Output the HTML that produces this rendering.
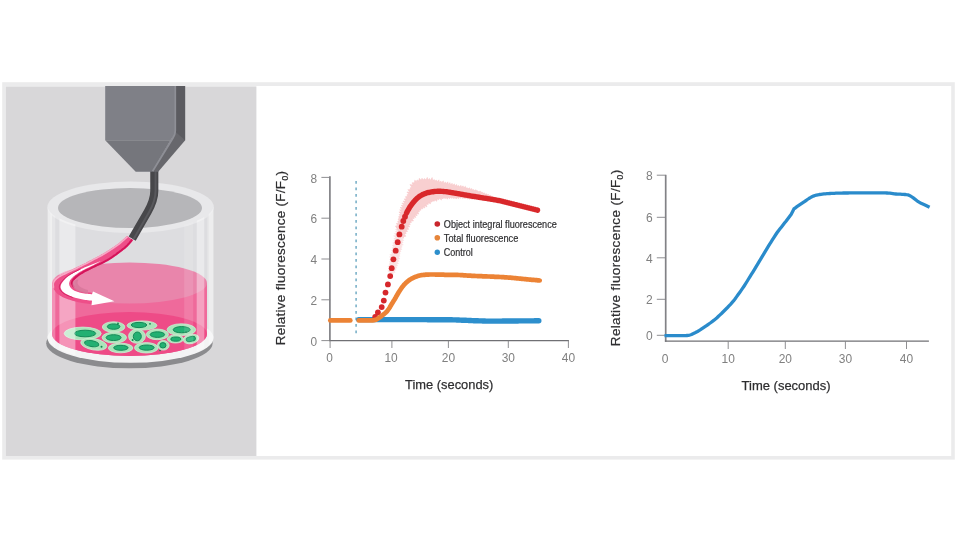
<!DOCTYPE html>
<html lang="en"><head><meta charset="utf-8"><title>Relative fluorescence figure</title>
<style>
html,body{margin:0;padding:0;background:#fff;}
body{width:960px;height:540px;overflow:hidden;}
svg{display:block;filter:blur(0.35px);font-family:"Liberation Sans",Arial,Helvetica,sans-serif;}
</style></head><body>
<svg width="960" height="540" viewBox="0 0 960 540">
<rect x="0" y="0" width="960" height="540" fill="#ffffff"/>
<rect x="2.2" y="82.2" width="952.6" height="377.4" fill="#ebebec"/>
<rect x="5.9" y="86" width="945.3" height="370" fill="#ffffff"/>
<rect x="5.9" y="86.4" width="250.5" height="369.6" fill="#d8d7d9"/>
<g id="illustration">
<defs>
<clipPath id="cylclip"><path d="M47.6,207 V338 A83,24.8 0 0 0 213.4,338 V207 A83,24.8 0 0 1 47.6,207 Z"/></clipPath>
</defs>
<!-- shadow -->
<ellipse cx="129.4" cy="343.3" rx="83.2" ry="25" fill="#8b8b8e"/>
<!-- glass body -->
<path d="M47.6,207 V338 A83,24.8 0 0 0 213.4,338 V207 Z" fill="#e3e3e5"/>
<ellipse cx="130.5" cy="338" rx="83" ry="24.8" fill="#f3f3f4"/>
<path d="M47.6,207 V338 A83,24.8 0 0 0 213.4,338 V207 Z" fill="#e3e3e5" opacity="0"/>
<!-- inner back wall above liquid -->
<path d="M52,207 V334 A77.5,22 0 0 0 207,334 V207 Z" fill="#dddde0"/>
<!-- top rim + opening -->
<ellipse cx="130.6" cy="207.2" rx="83.2" ry="25.7" fill="#e8e8ea"/>
<ellipse cx="130" cy="207.9" rx="72" ry="20" fill="#b6b6b9"/>
<!-- liquid -->
<path d="M52,283 V334 A77.5,22 0 0 0 207,334 V283 Z" fill="#ef6a9b"/>
<ellipse cx="129.5" cy="334" rx="77.5" ry="22" fill="#ee4b87"/>
<ellipse cx="129.5" cy="283" rx="77.5" ry="20.5" fill="#e985ab"/>
<!-- cells -->
<g fill="#abe4ba" stroke="#c9efd2" stroke-width="0.8">
<ellipse cx="82.7" cy="333.5" rx="18.5" ry="6.4"/>
<ellipse cx="113.6" cy="327.0" rx="11.3" ry="5.2"/>
<ellipse cx="142.0" cy="325.5" rx="14.9" ry="4.6"/>
<ellipse cx="114.3" cy="337.6" rx="12.2" ry="5.5"/>
<ellipse cx="93.8" cy="344.3" rx="13.2" ry="5.6" transform="rotate(10 93.8 344.3)"/>
<ellipse cx="120.6" cy="348.0" rx="12.2" ry="4.8"/>
<ellipse cx="137.0" cy="336.3" rx="8.4" ry="7.0"/>
<ellipse cx="157.4" cy="334.4" rx="11.1" ry="5.3"/>
<ellipse cx="181.4" cy="329.7" rx="14.3" ry="5.9"/>
<ellipse cx="175.4" cy="339.0" rx="8.2" ry="4.0"/>
<ellipse cx="191.1" cy="339.0" rx="7.8" ry="4.6" transform="rotate(-12 191.1 339)"/>
<ellipse cx="146.3" cy="347.8" rx="11.8" ry="5.2"/>
<ellipse cx="163.3" cy="345.3" rx="5.8" ry="4.8"/>
</g>
<g fill="#23b072" stroke="#128a57" stroke-width="1">
<ellipse cx="85.1" cy="333.5" rx="10.6" ry="3.3"/>
<ellipse cx="113.6" cy="326.6" rx="6.3" ry="2.7"/>
<ellipse cx="139.0" cy="325.0" rx="7.7" ry="2.6"/>
<ellipse cx="113.6" cy="337.6" rx="7.5" ry="2.9"/>
<ellipse cx="91.7" cy="343.6" rx="7.2" ry="3.0" transform="rotate(10 91.7 343.6)"/>
<ellipse cx="120.9" cy="347.8" rx="7.2" ry="2.5"/>
<ellipse cx="137.3" cy="336.4" rx="4.0" ry="4.4"/>
<ellipse cx="157.4" cy="334.6" rx="7.2" ry="2.8"/>
<ellipse cx="181.7" cy="329.7" rx="8.5" ry="3.1"/>
<ellipse cx="175.8" cy="339.1" rx="5.0" ry="2.1"/>
<ellipse cx="190.8" cy="339.0" rx="4.7" ry="2.4" transform="rotate(-12 190.8 339)"/>
<ellipse cx="146.7" cy="347.6" rx="7.5" ry="2.6"/>
<ellipse cx="162.9" cy="345.3" rx="3.1" ry="2.7"/>
</g>
<g fill="#11824f">
<circle cx="118" cy="323.5" r="0.9"/><circle cx="150" cy="323.8" r="0.9"/><circle cx="101.5" cy="346.8" r="1"/>
<circle cx="132.6" cy="340" r="1"/><circle cx="160" cy="350.5" r="0.8"/><circle cx="186" cy="332.2" r="0.9"/>
</g>
<!-- glass reflections -->
<g clip-path="url(#cylclip)" fill="#ffffff">
<rect x="47.4" y="200" width="4.4" height="170" opacity="0.32"/>
<rect x="50.4" y="200" width="4.9" height="170" opacity="0.28"/>
<rect x="59.4" y="200" width="16" height="170" opacity="0.4"/>
<rect x="184.2" y="200" width="9" height="170" opacity="0.12"/>
<rect x="196.7" y="200" width="7.6" height="170" opacity="0.38"/>
<rect x="208.6" y="200" width="5.4" height="170" opacity="0.36"/>
</g>
<!-- stream -->
<path d="M127.1,236.0 L126.5,236.5 L125.7,237.3 L124.7,238.1 L123.7,239.1 L122.5,240.1 L121.4,241.1 L120.3,242.0 L119.2,242.9 L118.2,243.7 L117.1,244.5 L116.1,245.2 L115.0,246.0 L114.0,246.7 L112.9,247.4 L111.8,248.1 L110.8,248.8 L109.8,249.5 L108.7,250.2 L107.7,250.8 L106.7,251.5 L105.6,252.1 L104.6,252.8 L103.5,253.4 L102.5,254.0 L101.5,254.6 L100.5,255.1 L99.5,255.7 L98.5,256.2 L97.4,256.7 L96.3,257.3 L95.2,257.9 L94.0,258.5 L92.7,259.2 L91.4,259.9 L90.0,260.6 L88.6,261.3 L87.2,262.1 L85.7,262.9 L84.1,263.7 L82.5,264.5 L80.8,265.3 L79.0,266.2 L77.1,267.1 L75.2,268.1 L73.2,269.0 L71.4,269.9 L69.6,270.7 L68.0,271.5 L66.5,272.2 L65.1,272.9 L63.7,273.5 L62.4,274.1 L61.2,274.7 L60.0,275.3 L59.0,275.9 L58.0,276.5 L57.1,277.2 L56.3,277.8 L55.5,278.5 L54.9,279.2 L54.3,279.9 L53.8,280.6 L53.3,281.3 L53.0,282.0 L52.7,282.7 L52.6,283.4 L52.5,284.1 L52.5,284.8 L52.5,285.6 L52.7,286.3 L52.9,287.0 L53.2,287.8 L53.6,288.6 L54.0,289.4 L54.6,290.3 L55.2,291.2 L55.9,292.0 L56.6,292.9 L57.4,293.7 L58.3,294.4 L59.2,295.1 L60.2,295.7 L61.3,296.3 L62.4,296.9 L63.5,297.4 L64.7,297.9 L66.0,298.4 L67.2,298.9 L68.5,299.4 L69.7,299.8 L71.1,300.3 L72.4,300.7 L73.8,301.1 L75.3,301.5 L76.7,301.8 L78.3,302.2 L80.0,302.5 L82.0,302.9 L84.0,303.2 L86.1,303.5 L88.1,303.8 L89.9,304.0 L91.4,304.2 L92.5,304.4 L92.5,292.9 L91.6,292.8 L90.5,292.6 L89.1,292.4 L87.5,292.2 L85.9,292.0 L84.4,291.7 L82.9,291.4 L81.7,291.1 L80.6,290.8 L79.6,290.4 L78.7,290.0 L77.8,289.6 L77.0,289.2 L76.3,288.7 L75.6,288.3 L75.0,287.8 L74.5,287.3 L74.0,286.8 L73.6,286.2 L73.3,285.7 L73.0,285.1 L72.8,284.5 L72.8,283.9 L72.8,283.3 L72.9,282.7 L73.2,282.1 L73.5,281.4 L73.9,280.8 L74.4,280.2 L75.0,279.5 L75.6,278.9 L76.3,278.2 L77.0,277.5 L77.9,276.9 L78.7,276.2 L79.7,275.5 L80.7,274.8 L81.7,274.2 L82.9,273.5 L84.0,272.8 L85.2,272.1 L86.6,271.4 L88.0,270.7 L89.4,270.0 L90.9,269.3 L92.3,268.6 L93.7,267.9 L95.0,267.3 L96.2,266.7 L97.4,266.1 L98.6,265.6 L99.8,265.0 L100.9,264.5 L102.0,264.0 L103.0,263.5 L104.0,263.0 L104.9,262.5 L105.8,262.1 L106.6,261.6 L107.4,261.2 L108.2,260.8 L109.0,260.3 L109.9,259.8 L110.8,259.2 L111.8,258.6 L112.8,257.9 L113.8,257.2 L114.9,256.4 L116.0,255.7 L117.1,254.9 L118.1,254.1 L119.2,253.3 L120.3,252.5 L121.3,251.7 L122.4,250.9 L123.5,250.0 L124.6,249.2 L125.6,248.4 L126.6,247.5 L127.5,246.7 L128.4,245.8 L129.2,244.9 L130.0,244.0 L130.8,243.0 L131.5,242.2 L132.2,241.4 L132.7,240.7 L133.1,240.2Z" fill="#ee4f89"/>
<path d="M127.6,236.6 L127.0,237.1 L126.2,237.9 L125.2,238.7 L124.2,239.7 L123.0,240.7 L121.9,241.7 L120.8,242.6 L119.7,243.5 L118.7,244.3 L117.6,245.1 L116.6,245.8 L115.5,246.6 L114.5,247.3 L113.4,248.0 L112.3,248.7 L111.3,249.4 L110.3,250.1 L109.2,250.8 L108.2,251.4 L107.2,252.1 L106.1,252.7 L105.1,253.4 L104.0,254.0 L103.0,254.6 L102.0,255.2 L101.0,255.7 L100.0,256.3 L99.0,256.8 L97.9,257.3 L96.8,257.9 L95.7,258.5 L94.5,259.1 L93.2,259.8 L91.9,260.5 L90.5,261.2 L89.1,261.9 L87.7,262.7 L86.2,263.5 L84.6,264.3 L83.0,265.1 L81.3,265.9 L79.5,266.8 L77.6,267.7 L75.7,268.7 L73.7,269.6 L71.9,270.5 L70.1,271.3 L68.5,272.1 L67.0,272.8 L65.6,273.5 L64.2,274.1 L62.9,274.7 L61.7,275.3 L60.5,275.9 L59.5,276.5 L58.5,277.1 L57.6,277.8 L56.8,278.4 L56.0,279.1 L55.4,279.8 L54.8,280.5 L54.3,281.2 L53.8,281.9 L53.5,282.6 L53.3,283.4 L53.2,284.2 L53.2,285.0 L53.3,285.8 L53.4,286.6 L53.5,287.4 L53.6,288.0 L53.7,288.4" fill="none" stroke="#f7a9c5" stroke-width="1.7"/>
<path d="M132.2,239.5 L131.8,240.0 L131.3,240.7 L130.6,241.5 L129.9,242.3 L129.1,243.3 L128.3,244.2 L127.5,245.1 L126.6,246.0 L125.7,246.8 L124.7,247.7 L123.7,248.5 L122.6,249.3 L121.5,250.2 L120.4,251.0 L119.4,251.8 L118.3,252.6 L117.2,253.4 L116.2,254.2 L115.1,255.0 L114.0,255.7 L112.9,256.5 L111.9,257.2 L110.9,257.9 L109.9,258.5 L109.0,259.1 L108.1,259.6 L107.3,260.1 L106.5,260.5 L105.7,260.9 L104.9,261.4 L104.0,261.8 L103.1,262.3 L102.1,262.8 L101.1,263.3 L100.0,263.8 L98.9,264.3 L97.7,264.9 L96.5,265.4 L95.3,266.0 L94.1,266.6 L92.8,267.2 L91.4,267.9 L90.0,268.6 L88.5,269.3 L87.1,270.0 L85.7,270.7 L84.3,271.4 L83.1,272.1 L82.0,272.8 L80.8,273.5 L79.8,274.1 L78.8,274.8 L77.8,275.5 L77.0,276.2 L76.1,276.8 L75.4,277.5 L74.7,278.2 L74.1,278.8 L73.5,279.5 L73.0,280.1 L72.6,280.7 L72.3,281.4 L72.0,282.0 L71.9,282.6 L71.9,283.2 L72.1,283.9 L72.4,284.5 L72.8,285.2 L73.2,285.8 L73.6,286.3 L73.9,286.8 L74.1,287.1" fill="none" stroke="#d4145a" stroke-width="2"/>
<path d="M73.5,280.5 C71.5,284 72.5,287.5 76,290 C79.5,292 84,293 88,293.4 L88,290 C84,289 80,287.5 78.3,285 C77,283 77.5,281.5 78.5,279.5 Z" fill="#d7779a" opacity="0.85"/>
<path d="M101.0,260.8 L100.3,261.1 L99.4,261.5 L98.3,261.9 L97.1,262.4 L95.9,263.0 L94.6,263.5 L93.2,264.1 L92.0,264.6 L90.8,265.1 L89.5,265.6 L88.3,266.1 L87.0,266.6 L85.7,267.1 L84.4,267.6 L83.1,268.2 L81.7,268.8 L80.3,269.5 L78.8,270.2 L77.2,271.0 L75.6,271.8 L74.1,272.6 L72.6,273.4 L71.2,274.2 L70.0,275.0 L68.9,275.8 L67.9,276.6 L66.9,277.3 L66.0,278.1 L65.2,278.9 L64.5,279.7 L63.8,280.4 L63.2,281.2 L62.6,282.0 L62.1,282.7 L61.6,283.5 L61.2,284.2 L60.9,285.0 L60.7,285.7 L60.6,286.5 L60.6,287.2 L60.7,287.9 L61.0,288.7 L61.3,289.5 L61.8,290.2 L62.3,290.9 L63.0,291.7 L63.7,292.3 L64.5,293.0 L65.4,293.6 L66.5,294.2 L67.6,294.8 L68.9,295.4 L70.2,295.9 L71.5,296.4 L72.7,296.9 L73.9,297.3 L75.0,297.7 L76.2,298.0 L77.3,298.3 L78.4,298.6 L79.5,298.8 L80.6,299.1 L81.7,299.3 L82.8,299.5 L84.0,299.7 L85.3,299.9 L86.6,300.1 L88.0,300.2 L89.2,300.4 L90.3,300.5 L91.3,300.6 L92.0,300.7 L91.5,305.2 L114.4,301.2 L93.0,291.6 L92.0,294.3 L91.2,294.2 L90.1,294.1 L88.8,294.0 L87.4,293.8 L85.9,293.7 L84.4,293.5 L83.0,293.3 L81.7,293.0 L80.5,292.7 L79.4,292.4 L78.2,292.1 L77.1,291.7 L76.0,291.3 L75.0,290.9 L74.1,290.5 L73.3,290.0 L72.6,289.5 L71.9,288.9 L71.2,288.3 L70.7,287.7 L70.2,287.0 L69.8,286.3 L69.5,285.7 L69.3,285.0 L69.2,284.3 L69.1,283.7 L69.2,283.0 L69.3,282.4 L69.5,281.7 L69.8,281.0 L70.1,280.3 L70.6,279.6 L71.2,278.9 L71.8,278.1 L72.6,277.4 L73.4,276.6 L74.3,275.9 L75.2,275.1 L76.2,274.4 L77.2,273.7 L78.2,273.0 L79.3,272.3 L80.5,271.6 L81.7,271.0 L82.8,270.3 L84.0,269.7 L85.2,269.1 L86.3,268.5 L87.4,267.9 L88.5,267.4 L89.5,266.9 L90.6,266.5 L91.6,266.0 L92.6,265.5 L93.6,265.1 L94.5,264.6 L95.4,264.1 L96.4,263.6 L97.3,263.0 L98.3,262.5 L99.1,261.9 L99.9,261.5 L100.5,261.1 L101.0,260.8Z" fill="#ffffff"/>
<path d="M80.5,269.0 L79.6,269.5 L78.3,270.1 L76.8,270.9 L75.1,271.7 L73.3,272.6 L71.7,273.5 L70.1,274.4 L68.8,275.2 L67.7,276.0 L66.7,276.8 L65.7,277.5 L64.8,278.3 L64.0,279.1 L63.3,279.9 L62.6,280.6 L62.0,281.4 L61.4,282.2 L60.9,282.9 L60.4,283.7 L60.0,284.4 L59.7,285.2 L59.5,285.9 L59.4,286.7 L59.4,287.4 L59.5,288.1 L59.8,288.9 L60.1,289.7 L60.6,290.4 L61.1,291.1 L61.8,291.9 L62.5,292.5 L63.3,293.2 L64.3,293.8 L65.5,294.5 L66.8,295.1 L68.2,295.7 L69.6,296.3 L70.9,296.8 L71.9,297.2 L72.7,297.5" fill="none" stroke="#d11a5d" stroke-width="0.9"/>

<!-- needle -->
<path d="M154.3,170 V191 C154.3,200 151,206 147.6,212 L132.2,238.6" fill="none" stroke="#47474a" stroke-width="8.1" stroke-linejoin="round"/>
<path d="M155.6,170 V191 C155.6,200.4 152.3,206.5 148.9,212.6 L133.5,239.2" fill="none" stroke="#58585c" stroke-width="2" stroke-linejoin="round"/>
<!-- pipette body -->
<path d="M175.6,86 H185.2 V140.2 H175.6 Z" fill="#5b5b60"/>
<path d="M175.6,132 L185.2,140.2 L158.2,171.7 H151.5 Z" fill="#67676c"/>
<path d="M105.2,86 H175.6 V133 L170.5,140.2 H105.2 Z" fill="#7f8087"/>
<path d="M105.2,140.2 H170.5 L152,171.7 H135.7 Z" fill="#75767c"/>
<path d="M175.3,86 V130.5 Q175.3,134.5 173,138 L152.6,171.2" fill="none" stroke="#8e8f96" stroke-width="1.7"/>
</g>

<g stroke="#828286" stroke-width="0.9" fill="none">
<path d="M329.9,176.2 V341.1" stroke-width="1.7"/>
<path d="M329.1,340.6 H568.9" stroke="#707074" stroke-width="1.2"/>
<path d="M321.4,177.4 H330.1"/>
<path d="M321.4,218.2 H330.1"/>
<path d="M321.4,259.0 H330.1"/>
<path d="M321.4,299.8 H330.1"/>
<path d="M321.4,340.6 H330.1"/>
<path d="M330.1,340.6 V348"/>
<path d="M391.9,340.6 V348"/>
<path d="M448.4,340.6 V348"/>
<path d="M508.3,340.6 V348"/>
<path d="M568.4,340.6 V348"/>
</g>
<g font-size="13" fill="#808080" text-anchor="end">
<text x="317.2" y="182.5" textLength="6.6" lengthAdjust="spacingAndGlyphs">8</text>
<text x="317.2" y="223.3" textLength="6.6" lengthAdjust="spacingAndGlyphs">6</text>
<text x="317.2" y="264.1" textLength="6.6" lengthAdjust="spacingAndGlyphs">4</text>
<text x="317.2" y="304.9" textLength="6.6" lengthAdjust="spacingAndGlyphs">2</text>
<text x="317.2" y="345.7" textLength="6.6" lengthAdjust="spacingAndGlyphs">0</text>
</g>
<g font-size="13" fill="#808080" text-anchor="middle">
<text x="329.6" y="362.2" textLength="6.6" lengthAdjust="spacingAndGlyphs">0</text>
<text x="391.1" y="362.2" textLength="13.3" lengthAdjust="spacingAndGlyphs">10</text>
<text x="448.4" y="362.2" textLength="13.3" lengthAdjust="spacingAndGlyphs">20</text>
<text x="508.3" y="362.2" textLength="13.3" lengthAdjust="spacingAndGlyphs">30</text>
<text x="568.4" y="362.2" textLength="13.3" lengthAdjust="spacingAndGlyphs">40</text>
</g>
<path d="M356.1,181 V337" stroke="#72acc5" stroke-width="1.5" stroke-dasharray="2.7 3.8" fill="none"/>
<path d="M358.8,319.6 L359.8,319.6 L360.8,319.6 L361.8,319.6 L362.8,319.6 L363.8,319.6 L364.8,319.6 L365.8,319.6 L366.8,319.6 L367.8,319.6 L368.8,319.6 L369.8,319.6 L370.8,319.6 L371.8,319.6 L372.8,319.6 L373.8,319.6 L374.8,319.6 L375.8,319.6 L376.8,319.6 L377.8,319.6 L378.8,319.6 L379.8,319.6 L380.8,319.6 L381.8,319.6 L382.8,319.6 L383.8,319.6 L384.8,319.6 L385.8,319.6 L386.8,319.6 L387.8,319.6 L388.8,319.6 L389.8,319.6 L390.8,319.6 L391.8,319.6 L392.8,319.6 L393.8,319.6 L394.8,319.6 L395.8,319.6 L396.8,319.6 L397.8,319.6 L398.8,319.6 L399.8,319.6 L400.8,319.6 L401.8,319.6 L402.8,319.6 L403.8,319.6 L404.8,319.6 L405.8,319.6 L406.8,319.6 L407.8,319.6 L408.8,319.6 L409.8,319.6 L410.8,319.6 L411.8,319.6 L412.8,319.6 L413.8,319.6 L414.8,319.6 L415.8,319.6 L416.8,319.6 L417.8,319.6 L418.8,319.6 L419.8,319.6 L420.8,319.6 L421.8,319.6 L422.8,319.6 L423.8,319.6 L424.8,319.6 L425.8,319.6 L426.8,319.6 L427.8,319.7 L428.8,319.7 L429.8,319.7 L430.8,319.7 L431.8,319.7 L432.8,319.7 L433.8,319.7 L434.8,319.7 L435.8,319.7 L436.8,319.7 L437.8,319.7 L438.8,319.7 L439.8,319.7 L440.8,319.7 L441.8,319.7 L442.8,319.7 L443.8,319.7 L444.8,319.7 L445.8,319.7 L446.8,319.8 L447.8,319.8 L448.8,319.8 L449.8,319.8 L450.8,319.8 L451.8,319.8 L452.8,319.9 L453.8,319.9 L454.8,319.9 L455.8,319.9 L456.8,320.0 L457.8,320.0 L458.8,320.0 L459.8,320.1 L460.8,320.1 L461.8,320.2 L462.8,320.2 L463.8,320.3 L464.8,320.3 L465.8,320.3 L466.8,320.4 L467.8,320.4 L468.8,320.5 L469.8,320.5 L470.8,320.5 L471.8,320.6 L472.8,320.6 L473.8,320.7 L474.8,320.7 L475.8,320.7 L476.8,320.8 L477.8,320.8 L478.8,320.9 L479.8,320.9 L480.8,320.9 L481.8,320.9 L482.8,321.0 L483.8,321.0 L484.8,321.0 L485.8,321.1 L486.8,321.1 L487.8,321.1 L488.8,321.1 L489.8,321.1 L490.8,321.1 L491.8,321.1 L492.8,321.1 L493.8,321.1 L494.8,321.1 L495.8,321.1 L496.8,321.1 L497.8,321.1 L498.8,321.1 L499.8,321.1 L500.8,321.1 L501.8,321.1 L502.8,321.0 L503.8,321.0 L504.8,321.0 L505.8,321.0 L506.8,321.0 L507.8,321.0 L508.8,321.0 L509.8,321.0 L510.8,321.0 L511.8,321.0 L512.8,321.0 L513.8,321.0 L514.8,321.0 L515.8,321.0 L516.8,321.0 L517.8,321.0 L518.8,320.9 L519.8,320.9 L520.8,320.9 L521.8,320.9 L522.8,320.9 L523.8,320.9 L524.8,320.9 L525.8,320.9 L526.8,320.9 L527.8,320.9 L528.8,320.9 L529.8,320.9 L530.8,320.9 L531.8,320.9 L532.8,320.9 L533.8,320.9 L534.8,320.8 L535.8,320.8 L536.8,320.8 L537.8,320.8 L538.8,320.8" stroke="#2d8fcd" stroke-width="5.4" stroke-linecap="round" stroke-linejoin="round" fill="none"/>
<path d="M387.3,270.8 L389.5,269.9 L388.0,268.6 L389.7,267.6 L387.3,266.2 L390.0,265.3 L388.7,264.0 L390.1,263.0 L389.1,261.7 L390.4,260.7 L389.4,259.3 L390.8,258.4 L388.9,256.8 L391.2,256.2 L389.4,254.6 L391.9,254.0 L391.0,252.6 L392.4,251.7 L391.1,250.2 L392.9,249.3 L391.6,247.8 L393.5,246.9 L391.9,245.3 L393.9,244.5 L392.3,242.8 L394.6,242.1 L393.2,240.6 L394.9,239.8 L393.5,238.3 L395.6,237.5 L393.0,235.8 L395.9,235.2 L393.6,233.5 L396.5,233.0 L394.9,231.5 L396.8,230.8 L395.0,229.3 L397.4,228.7 L396.0,227.2 L397.6,226.5 L404.3,238.2 L402.8,239.1 L404.2,240.5 L402.4,241.3 L403.5,242.7 L401.9,243.5 L403.8,245.0 L401.4,245.7 L402.6,247.1 L401.1,247.9 L402.3,249.5 L400.5,250.2 L401.3,251.7 L399.8,252.5 L400.6,253.9 L399.2,254.8 L400.4,256.3 L398.6,257.1 L400.3,258.9 L397.9,259.6 L399.6,261.3 L397.4,262.0 L398.9,263.7 L396.8,264.4 L398.1,266.0 L396.1,266.6 L397.3,268.1 L395.6,268.7 L396.4,270.1 L394.7,270.8 L395.3,272.9 L393.5,272.4 L393.4,274.7 L391.5,274.0Z" fill="#f9d6d7" opacity="0.7"/>
<path d="M395.4,226.0 L398.2,225.4 L396.2,223.7 L398.5,223.0 L397.6,221.5 L399.1,220.6 L398.0,219.1 L399.6,218.2 L398.5,216.7 L400.3,216.0 L399.1,214.5 L401.1,213.9 L398.9,212.1 L401.7,211.8 L399.6,209.9 L402.3,209.6 L400.0,207.5 L403.3,207.5 L401.2,205.5 L404.0,205.3 L401.9,203.2 L405.0,203.2 L403.1,201.2 L406.0,201.1 L404.1,198.9 L406.8,198.8 L405.3,196.7 L407.7,196.5 L406.9,194.7 L408.9,194.3 L406.9,192.1 L410.0,192.0 L407.8,189.7 L410.8,189.6 L410.0,187.9 L411.8,187.3 L409.9,184.6 L413.1,185.1 L412.0,182.8 L414.5,182.8 L414.7,180.2 L416.3,181.4 L417.1,179.9 L418.7,181.1 L419.3,178.3 L421.0,180.2 L422.0,178.2 L423.4,180.0 L424.5,178.4 L425.8,180.0 L427.3,177.4 L428.1,179.9 L429.5,178.4 L430.4,180.4 L432.1,177.5 L432.8,180.6 L434.3,179.5 L435.0,181.0 L436.5,180.1 L437.2,181.9 L438.9,179.8 L439.4,182.4 L440.9,181.0 L441.6,182.7 L443.3,180.8 L443.8,183.5 L445.4,182.0 L446.1,183.8 L447.8,181.8 L448.3,184.4 L449.9,182.6 L450.5,184.9 L452.1,183.3 L452.7,185.6 L454.3,183.8 L455.0,185.9 L456.5,184.4 L457.2,186.3 L458.6,185.4 L459.4,186.9 L460.9,185.3 L461.6,187.2 L463.1,185.8 L463.8,187.8 L465.4,186.3 L466.0,188.3 L467.3,187.7 L468.2,188.8 L469.6,187.8 L470.3,189.5 L471.7,188.5 L472.5,190.0 L473.7,189.5 L474.6,190.6 L476.0,189.7 L476.8,191.0 L478.0,190.8 L478.9,191.7 L480.3,191.0 L481.0,192.3 L482.3,192.2 L483.2,193.1 L484.4,193.0 L485.3,193.9 L486.6,193.8 L487.4,194.8 L488.7,194.6 L489.5,195.6 L490.9,195.4 L491.6,196.5 L492.9,196.5 L493.8,197.4 L495.1,197.2 L495.9,198.2 L497.0,198.5 L497.0,200.2 L495.9,199.9 L494.7,200.4 L493.6,199.8 L492.4,200.2 L491.3,199.7 L490.2,200.3 L489.1,199.5 L487.9,200.1 L486.8,199.5 L485.6,199.9 L484.5,199.4 L483.4,200.0 L482.3,199.2 L481.1,199.5 L480.0,199.1 L478.8,199.7 L477.7,198.9 L476.5,199.3 L475.4,198.7 L474.2,199.4 L473.1,198.5 L471.9,199.4 L470.8,198.3 L469.5,199.3 L468.5,198.2 L467.3,198.9 L466.2,197.9 L465.0,198.6 L463.9,197.8 L462.8,198.6 L461.7,197.6 L460.5,198.3 L459.5,197.6 L458.3,198.8 L457.2,197.5 L456.1,199.0 L455.0,197.2 L453.9,198.8 L452.8,197.1 L451.8,198.5 L450.6,197.3 L449.5,198.8 L448.4,197.3 L447.3,199.2 L446.1,197.5 L445.1,198.8 L443.9,197.4 L442.9,199.0 L441.7,197.7 L441.4,200.1 L439.4,198.2 L438.7,199.8 L437.1,198.9 L436.7,201.3 L434.9,199.8 L434.2,201.3 L432.7,200.7 L431.9,202.1 L430.4,201.6 L430.5,203.8 L428.3,202.8 L428.2,204.6 L426.2,203.9 L426.9,206.9 L424.4,205.4 L424.8,208.0 L422.4,206.8 L422.9,208.8 L420.6,208.3 L421.0,210.2 L419.2,210.0 L419.4,211.7 L417.7,211.7 L418.7,214.1 L416.3,213.4 L417.2,215.7 L414.8,215.1 L415.8,217.5 L413.4,216.8 L414.2,218.6 L411.8,218.6 L413.5,221.0 L410.8,220.8 L411.4,222.5 L409.3,222.7 L410.3,224.7 L408.3,224.9 L409.8,226.9 L407.2,227.2 L408.8,229.3 L406.2,229.5 L407.5,231.5 L405.2,231.9 L406.2,233.6 L404.2,234.2 L405.9,236.2 L403.4,236.7 L403.3,238.0Z" fill="#f8cfd0" stroke="#f6c2c4" stroke-width="0.5" stroke-linejoin="round"/>
<g fill="#d6272b">
<circle cx="375.2" cy="316.8" r="2.9"/>
<circle cx="377.9" cy="312.5" r="2.9"/>
<circle cx="381.7" cy="307.1" r="2.9"/>
<circle cx="383.8" cy="300.6" r="2.9"/>
<circle cx="385.5" cy="292.6" r="2.9"/>
<circle cx="387.9" cy="284.4" r="2.9"/>
<circle cx="390.2" cy="276.1" r="2.9"/>
<circle cx="391.7" cy="268.2" r="2.9"/>
<circle cx="393.4" cy="259.3" r="2.9"/>
<circle cx="395.7" cy="250.7" r="2.9"/>
<circle cx="397.7" cy="242.2" r="2.9"/>
<circle cx="399.4" cy="234.4" r="2.9"/>
<circle cx="401.7" cy="226.7" r="2.9"/>
<circle cx="403.3" cy="221.0" r="2.9"/>
<circle cx="405.0" cy="216.7" r="2.9"/>
</g>
<path d="M406.5,213.1 L407.5,211.0 L408.5,209.3 L409.5,207.6 L410.5,206.1 L411.5,204.7 L412.5,203.4 L413.5,202.1 L414.5,201.0 L415.5,199.9 L416.5,198.9 L417.5,197.9 L418.5,197.2 L419.5,196.4 L420.5,195.8 L421.5,195.2 L422.5,194.6 L423.5,194.2 L424.5,193.8 L425.5,193.4 L426.5,193.0 L427.5,192.7 L428.5,192.5 L429.5,192.3 L430.5,192.1 L431.5,191.9 L432.5,191.8 L433.5,191.7 L434.5,191.5 L435.5,191.4 L436.5,191.4 L437.5,191.3 L438.5,191.3 L439.5,191.3 L440.5,191.3 L441.5,191.4 L442.5,191.4 L443.5,191.5 L444.5,191.6 L445.5,191.6 L446.5,191.7 L447.5,191.9 L448.5,192.1 L449.5,192.2 L450.5,192.4 L451.5,192.6 L452.5,192.7 L453.5,192.9 L454.5,193.1 L455.5,193.2 L456.5,193.4 L457.5,193.6 L458.5,193.7 L459.5,193.9 L460.5,194.1 L461.5,194.3 L462.5,194.4 L463.5,194.6 L464.5,194.8 L465.5,195.0 L466.5,195.2 L467.5,195.4 L468.5,195.5 L469.5,195.7 L470.5,195.9 L471.5,196.1 L472.5,196.2 L473.5,196.4 L474.5,196.5 L475.5,196.7 L476.5,196.9 L477.5,197.0 L478.5,197.2 L479.5,197.3 L480.5,197.5 L481.5,197.6 L482.5,197.8 L483.5,198.0 L484.5,198.1 L485.5,198.3 L486.5,198.4 L487.5,198.6 L488.5,198.8 L489.5,198.9 L490.5,199.1 L491.5,199.3 L492.5,199.4 L493.5,199.6 L494.5,199.8 L495.5,199.9 L496.5,200.1 L497.5,200.3 L498.5,200.5 L499.5,200.7 L500.5,200.9 L501.5,201.1 L502.5,201.3 L503.5,201.6 L504.5,201.8 L505.5,202.1 L506.5,202.3 L507.5,202.6 L508.5,202.8 L509.5,203.1 L510.5,203.3 L511.5,203.6 L512.5,203.8 L513.5,204.1 L514.5,204.4 L515.5,204.6 L516.5,204.9 L517.5,205.2 L518.5,205.4 L519.5,205.7 L520.5,205.9 L521.5,206.2 L522.5,206.4 L523.5,206.7 L524.5,206.9 L525.5,207.2 L526.5,207.4 L527.5,207.7 L528.5,207.9 L529.5,208.2 L530.5,208.4 L531.5,208.7 L532.5,208.9 L533.5,209.2 L534.5,209.4 L535.5,209.7 L536.5,209.9 L537.5,210.2" stroke="#d9282b" stroke-width="5.4" stroke-linecap="round" stroke-linejoin="round" fill="none"/>
<path d="M330.3,320.4 L331.3,320.4 L332.3,320.4 L333.3,320.4 L334.3,320.4 L335.3,320.4 L336.3,320.4 L337.3,320.4 L338.3,320.4 L339.3,320.4 L340.3,320.4 L341.3,320.4 L342.3,320.4 L343.3,320.4 L344.3,320.4 L345.3,320.4 L346.3,320.4 L347.3,320.4 L348.3,320.4 L349.3,320.4 L350.3,320.4" stroke="#ec8335" stroke-width="4.7" stroke-linecap="round" stroke-linejoin="round" fill="none"/>
<path d="M358.7,320.4 L359.7,320.4 L360.7,320.4 L361.7,320.4 L362.7,320.4 L363.7,320.4 L364.7,320.4 L365.7,320.4 L366.7,320.4 L367.7,320.4 L368.7,320.4 L369.7,320.4 L370.7,320.4 L371.7,320.4 L372.7,320.4 L373.7,320.2 L374.7,320.1 L375.7,319.8 L376.7,319.3 L377.7,318.7 L378.7,318.1 L379.7,317.4 L380.7,316.6 L381.7,315.8 L382.7,315.0 L383.7,314.3 L384.7,313.5 L385.7,312.7 L386.7,311.7 L387.7,310.4 L388.7,309.0 L389.7,307.5 L390.7,305.7 L391.7,304.0 L392.7,302.4 L393.7,300.8 L394.7,299.2 L395.7,297.5 L396.7,295.7 L397.7,294.0 L398.7,292.3 L399.7,290.7 L400.7,289.2 L401.7,287.7 L402.7,286.4 L403.7,285.2 L404.7,284.1 L405.7,283.1 L406.7,282.2 L407.7,281.3 L408.7,280.5 L409.7,279.8 L410.7,279.2 L411.7,278.6 L412.7,278.1 L413.7,277.6 L414.7,277.1 L415.7,276.7 L416.7,276.4 L417.7,276.1 L418.7,275.8 L419.7,275.5 L420.7,275.3 L421.7,275.1 L422.7,275.0 L423.7,274.9 L424.7,274.8 L425.7,274.7 L426.7,274.7 L427.7,274.6 L428.7,274.6 L429.7,274.5 L430.7,274.5 L431.7,274.5 L432.7,274.5 L433.7,274.5 L434.7,274.5 L435.7,274.6 L436.7,274.6 L437.7,274.6 L438.7,274.7 L439.7,274.7 L440.7,274.7 L441.7,274.7 L442.7,274.7 L443.7,274.7 L444.7,274.8 L445.7,274.8 L446.7,274.8 L447.7,274.8 L448.7,274.8 L449.7,274.8 L450.7,274.8 L451.7,274.8 L452.7,274.8 L453.7,274.8 L454.7,274.9 L455.7,274.9 L456.7,274.9 L457.7,274.9 L458.7,275.0 L459.7,275.0 L460.7,275.1 L461.7,275.1 L462.7,275.2 L463.7,275.3 L464.7,275.3 L465.7,275.4 L466.7,275.5 L467.7,275.6 L468.7,275.6 L469.7,275.7 L470.7,275.7 L471.7,275.8 L472.7,275.8 L473.7,275.9 L474.7,275.9 L475.7,276.0 L476.7,276.0 L477.7,276.1 L478.7,276.1 L479.7,276.1 L480.7,276.2 L481.7,276.2 L482.7,276.3 L483.7,276.3 L484.7,276.3 L485.7,276.4 L486.7,276.4 L487.7,276.5 L488.7,276.5 L489.7,276.5 L490.7,276.6 L491.7,276.6 L492.7,276.7 L493.7,276.7 L494.7,276.8 L495.7,276.8 L496.7,276.8 L497.7,276.9 L498.7,276.9 L499.7,277.0 L500.7,277.0 L501.7,277.1 L502.7,277.2 L503.7,277.2 L504.7,277.3 L505.7,277.4 L506.7,277.4 L507.7,277.5 L508.7,277.6 L509.7,277.7 L510.7,277.7 L511.7,277.8 L512.7,277.9 L513.7,278.0 L514.7,278.1 L515.7,278.2 L516.7,278.3 L517.7,278.4 L518.7,278.5 L519.7,278.6 L520.7,278.7 L521.7,278.8 L522.7,278.9 L523.7,279.0 L524.7,279.1 L525.7,279.2 L526.7,279.3 L527.7,279.4 L528.7,279.5 L529.7,279.6 L530.7,279.7 L531.7,279.8 L532.7,279.9 L533.7,279.9 L534.7,280.0 L535.7,280.1 L536.7,280.2 L537.7,280.3 L538.7,280.4 L539.7,280.5" stroke="#ec8335" stroke-width="4.7" stroke-linecap="round" stroke-linejoin="round" fill="none"/>
<circle cx="437.3" cy="224" r="2.8" fill="#c9262c"/>
<circle cx="437.3" cy="237.8" r="2.8" fill="#e6853a"/>
<circle cx="437.3" cy="252.2" r="2.7" fill="#2d8fcc"/>
<g font-size="11" fill="#2e2e30" stroke="#2e2e30" stroke-width="0.2">
<text x="443.8" y="227.8" textLength="113" lengthAdjust="spacingAndGlyphs">Object integral fluorescence</text>
<text x="443.8" y="241.6" textLength="74.6" lengthAdjust="spacingAndGlyphs">Total fluorescence</text>
<text x="443.8" y="256" textLength="29" lengthAdjust="spacingAndGlyphs">Control</text>
</g>
<text x="405.1" y="388.9" font-size="13.5" fill="#2e2e30" stroke="#2e2e30" stroke-width="0.25" textLength="88.2" lengthAdjust="spacingAndGlyphs">Time (seconds)</text>
<text transform="translate(284.7,345.3) rotate(-90)" font-size="13.5" fill="#2e2e30" stroke="#2e2e30" stroke-width="0.2" textLength="174.2" lengthAdjust="spacing">Relative fluorescence (F/F<tspan font-size="8.5" dy="3.3">0</tspan><tspan dy="-3.3">)</tspan></text>
<g stroke="#828286" stroke-width="0.9" fill="none">
<path d="M665.7,174.8 V341.7" stroke-width="1.7"/>
<path d="M664.9,341.2 H928.9" stroke="#707074" stroke-width="1.2"/>
<path d="M656.8,175.2 H665.6"/>
<path d="M656.8,217.3 H665.6"/>
<path d="M656.8,257.8 H665.6"/>
<path d="M656.8,299.3 H665.6"/>
<path d="M656.8,335.3 H665.6"/>
<path d="M728.2,341.2 V349"/>
<path d="M785.3,341.2 V349"/>
<path d="M845.4,341.2 V349"/>
<path d="M906.5,341.2 V349"/>
</g>
<g font-size="13" fill="#808080" text-anchor="end">
<text x="652.8" y="180.3" textLength="6.7" lengthAdjust="spacingAndGlyphs">8</text>
<text x="652.8" y="222.4" textLength="6.7" lengthAdjust="spacingAndGlyphs">6</text>
<text x="652.8" y="262.9" textLength="6.7" lengthAdjust="spacingAndGlyphs">4</text>
<text x="652.8" y="304.4" textLength="6.7" lengthAdjust="spacingAndGlyphs">2</text>
<text x="652.8" y="340.4" textLength="6.7" lengthAdjust="spacingAndGlyphs">0</text>
</g>
<g font-size="13" fill="#808080" text-anchor="middle">
<text x="665" y="363.2" textLength="6.7" lengthAdjust="spacingAndGlyphs">0</text>
<text x="728.2" y="363.2" textLength="13.3" lengthAdjust="spacingAndGlyphs">10</text>
<text x="785.3" y="363.2" textLength="13.3" lengthAdjust="spacingAndGlyphs">20</text>
<text x="845.4" y="363.2" textLength="13.3" lengthAdjust="spacingAndGlyphs">30</text>
<text x="906.5" y="363.2" textLength="13.3" lengthAdjust="spacingAndGlyphs">40</text>
</g>
<path d="M664.5,335.6 L666.0,335.6 L667.5,335.6 L669.0,335.6 L670.5,335.6 L672.0,335.6 L673.5,335.6 L675.0,335.6 L676.5,335.6 L678.0,335.6 L679.5,335.6 L681.0,335.6 L682.5,335.6 L684.0,335.6 L685.5,335.6 L687.0,335.5 L688.5,335.4 L690.0,335.0 L691.5,334.5 L693.0,333.8 L694.5,333.1 L696.0,332.3 L697.5,331.5 L699.0,330.6 L700.5,329.7 L702.0,328.7 L703.5,327.7 L705.0,326.7 L706.5,325.7 L708.0,324.6 L709.5,323.5 L711.0,322.5 L712.5,321.3 L714.0,320.2 L715.5,319.0 L717.0,317.7 L718.5,316.3 L720.0,314.9 L721.5,313.5 L723.0,312.0 L724.5,310.5 L726.0,309.0 L727.5,307.5 L729.0,305.9 L730.5,304.3 L732.0,302.6 L733.5,300.9 L735.0,299.0 L736.5,296.9 L738.0,294.8 L739.5,292.7 L741.0,290.6 L742.5,288.4 L744.0,286.2 L745.5,283.9 L747.0,281.5 L748.5,279.0 L750.0,276.6 L751.5,274.2 L753.0,271.8 L754.5,269.3 L756.0,266.8 L757.5,264.3 L759.0,261.8 L760.5,259.3 L762.0,256.8 L763.5,254.3 L765.0,251.8 L766.5,249.3 L768.0,246.9 L769.5,244.4 L771.0,242.1 L772.5,239.7 L774.0,237.3 L775.5,235.0 L777.0,232.8 L778.5,230.7 L780.0,228.8 L781.5,226.9 L783.0,225.0 L784.5,223.1 L786.0,221.2 L787.5,219.2 L789.0,217.2 L790.5,215.2 L791.1,214.4 L793.9,208.9 L795.4,207.8 L796.9,206.7 L798.4,205.7 L799.9,204.7 L801.4,203.7 L802.9,202.7 L804.4,201.7 L805.9,200.6 L807.4,199.5 L808.9,198.5 L810.4,197.6 L811.9,196.8 L813.4,196.1 L814.9,195.5 L816.4,195.1 L817.9,194.8 L819.4,194.5 L820.9,194.3 L822.4,194.1 L823.9,193.9 L825.4,193.8 L826.9,193.7 L828.4,193.6 L829.9,193.5 L831.4,193.4 L832.9,193.3 L834.4,193.3 L835.9,193.2 L837.4,193.2 L838.9,193.1 L840.4,193.1 L841.9,193.1 L843.4,193.0 L844.9,193.0 L846.4,193.0 L847.9,193.0 L849.4,192.9 L850.9,192.9 L852.4,192.9 L853.9,192.9 L855.4,192.9 L856.9,192.9 L858.4,192.9 L859.9,192.9 L861.4,192.9 L862.9,192.9 L864.4,192.9 L865.9,192.9 L867.4,192.9 L868.9,192.9 L870.4,192.9 L871.9,192.9 L873.4,192.9 L874.9,192.9 L876.4,192.9 L877.9,192.9 L879.4,192.9 L880.9,192.9 L882.4,192.9 L883.9,192.9 L885.4,192.9 L886.9,193.0 L888.4,193.1 L889.9,193.2 L891.4,193.4 L892.9,193.6 L894.4,193.9 L895.9,194.0 L897.4,194.1 L898.9,194.2 L900.4,194.2 L901.9,194.3 L903.4,194.4 L904.9,194.5 L906.4,194.7 L907.8,194.8 L910.5,196.0 L913.3,197.9 L917.0,200.8 L921.1,203.3 L925.0,205.0 L929.6,207.3" stroke="#2a8bcb" stroke-width="3.3" stroke-linecap="butt" stroke-linejoin="round" fill="none"/>
<text x="741.6" y="390.3" font-size="13.5" fill="#2e2e30" stroke="#2e2e30" stroke-width="0.25" textLength="89" lengthAdjust="spacingAndGlyphs">Time (seconds)</text>
<text transform="translate(619.7,346.2) rotate(-90)" font-size="13.5" fill="#2e2e30" stroke="#2e2e30" stroke-width="0.2" textLength="176.4" lengthAdjust="spacing">Relative fluorescence (F/F<tspan font-size="8.5" dy="3.3">0</tspan><tspan dy="-3.3">)</tspan></text>
</svg>
</body></html>
